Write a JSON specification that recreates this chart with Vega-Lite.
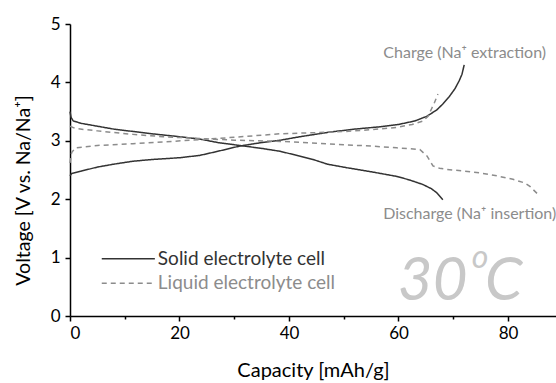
{
  "$schema": "https://vega.github.io/schema/vega-lite/v6.json",
  "width": 486,
  "height": 292,
  "autosize": {"type": "none"},
  "padding": {"left": 70, "top": 24, "right": 0, "bottom": 67},
  "config": {"view": {"stroke": null}, "font": "Lato"},
  "datasets": {
    "curves": [
      {"cell": "solid", "branch": "solid-charge", "i": 1, "cap": 0, "v": 2.40},
      {"cell": "solid", "branch": "solid-charge", "i": 2, "cap": 0.3, "v": 2.44},
      {"cell": "solid", "branch": "solid-charge", "i": 3, "cap": 2, "v": 2.48},
      {"cell": "solid", "branch": "solid-charge", "i": 4, "cap": 5, "v": 2.55},
      {"cell": "solid", "branch": "solid-charge", "i": 5, "cap": 8, "v": 2.60},
      {"cell": "solid", "branch": "solid-charge", "i": 6, "cap": 11.5, "v": 2.65},
      {"cell": "solid", "branch": "solid-charge", "i": 7, "cap": 15, "v": 2.68},
      {"cell": "solid", "branch": "solid-charge", "i": 8, "cap": 20, "v": 2.71},
      {"cell": "solid", "branch": "solid-charge", "i": 9, "cap": 23.7, "v": 2.75},
      {"cell": "solid", "branch": "solid-charge", "i": 10, "cap": 27, "v": 2.82},
      {"cell": "solid", "branch": "solid-charge", "i": 11, "cap": 31, "v": 2.91},
      {"cell": "solid", "branch": "solid-charge", "i": 12, "cap": 35, "v": 2.97},
      {"cell": "solid", "branch": "solid-charge", "i": 13, "cap": 38.4, "v": 3.01},
      {"cell": "solid", "branch": "solid-charge", "i": 14, "cap": 42, "v": 3.07},
      {"cell": "solid", "branch": "solid-charge", "i": 15, "cap": 47.5, "v": 3.15},
      {"cell": "solid", "branch": "solid-charge", "i": 16, "cap": 52, "v": 3.20},
      {"cell": "solid", "branch": "solid-charge", "i": 17, "cap": 56.6, "v": 3.24},
      {"cell": "solid", "branch": "solid-charge", "i": 18, "cap": 60, "v": 3.28},
      {"cell": "solid", "branch": "solid-charge", "i": 19, "cap": 63, "v": 3.34},
      {"cell": "solid", "branch": "solid-charge", "i": 20, "cap": 65.2, "v": 3.42},
      {"cell": "solid", "branch": "solid-charge", "i": 21, "cap": 67, "v": 3.53},
      {"cell": "solid", "branch": "solid-charge", "i": 22, "cap": 68.1, "v": 3.63},
      {"cell": "solid", "branch": "solid-charge", "i": 23, "cap": 69.3, "v": 3.76},
      {"cell": "solid", "branch": "solid-charge", "i": 24, "cap": 70.3, "v": 3.89},
      {"cell": "solid", "branch": "solid-charge", "i": 25, "cap": 71.1, "v": 4.03},
      {"cell": "solid", "branch": "solid-charge", "i": 26, "cap": 71.6, "v": 4.14},
      {"cell": "solid", "branch": "solid-charge", "i": 27, "cap": 72, "v": 4.30},

      {"cell": "solid", "branch": "solid-discharge", "i": 1, "cap": 0, "v": 3.50},
      {"cell": "solid", "branch": "solid-discharge", "i": 2, "cap": 0.2, "v": 3.40},
      {"cell": "solid", "branch": "solid-discharge", "i": 3, "cap": 0.6, "v": 3.34},
      {"cell": "solid", "branch": "solid-discharge", "i": 4, "cap": 2, "v": 3.30},
      {"cell": "solid", "branch": "solid-discharge", "i": 5, "cap": 5, "v": 3.25},
      {"cell": "solid", "branch": "solid-discharge", "i": 6, "cap": 8, "v": 3.20},
      {"cell": "solid", "branch": "solid-discharge", "i": 7, "cap": 11.5, "v": 3.16},
      {"cell": "solid", "branch": "solid-discharge", "i": 8, "cap": 15, "v": 3.12},
      {"cell": "solid", "branch": "solid-discharge", "i": 9, "cap": 20, "v": 3.07},
      {"cell": "solid", "branch": "solid-discharge", "i": 10, "cap": 23.7, "v": 3.03},
      {"cell": "solid", "branch": "solid-discharge", "i": 11, "cap": 27, "v": 2.97},
      {"cell": "solid", "branch": "solid-discharge", "i": 12, "cap": 31, "v": 2.92},
      {"cell": "solid", "branch": "solid-discharge", "i": 13, "cap": 35, "v": 2.87},
      {"cell": "solid", "branch": "solid-discharge", "i": 14, "cap": 38.4, "v": 2.82},
      {"cell": "solid", "branch": "solid-discharge", "i": 15, "cap": 41, "v": 2.76},
      {"cell": "solid", "branch": "solid-discharge", "i": 16, "cap": 44.4, "v": 2.68},
      {"cell": "solid", "branch": "solid-discharge", "i": 17, "cap": 47, "v": 2.60},
      {"cell": "solid", "branch": "solid-discharge", "i": 18, "cap": 50.5, "v": 2.54},
      {"cell": "solid", "branch": "solid-discharge", "i": 19, "cap": 55, "v": 2.47},
      {"cell": "solid", "branch": "solid-discharge", "i": 20, "cap": 59.7, "v": 2.39},
      {"cell": "solid", "branch": "solid-discharge", "i": 21, "cap": 62, "v": 2.33},
      {"cell": "solid", "branch": "solid-discharge", "i": 22, "cap": 64.5, "v": 2.25},
      {"cell": "solid", "branch": "solid-discharge", "i": 23, "cap": 66, "v": 2.18},
      {"cell": "solid", "branch": "solid-discharge", "i": 24, "cap": 67, "v": 2.11},
      {"cell": "solid", "branch": "solid-discharge", "i": 25, "cap": 68.1, "v": 1.99},

      {"cell": "liquid", "branch": "liquid-charge", "i": 1, "cap": 0, "v": 2.62},
      {"cell": "liquid", "branch": "liquid-charge", "i": 2, "cap": 0.3, "v": 2.80},
      {"cell": "liquid", "branch": "liquid-charge", "i": 3, "cap": 1, "v": 2.88},
      {"cell": "liquid", "branch": "liquid-charge", "i": 4, "cap": 5, "v": 2.92},
      {"cell": "liquid", "branch": "liquid-charge", "i": 5, "cap": 11.5, "v": 2.95},
      {"cell": "liquid", "branch": "liquid-charge", "i": 6, "cap": 17, "v": 2.98},
      {"cell": "liquid", "branch": "liquid-charge", "i": 7, "cap": 23.7, "v": 3.02},
      {"cell": "liquid", "branch": "liquid-charge", "i": 8, "cap": 30, "v": 3.06},
      {"cell": "liquid", "branch": "liquid-charge", "i": 9, "cap": 38.4, "v": 3.12},
      {"cell": "liquid", "branch": "liquid-charge", "i": 10, "cap": 45, "v": 3.14},
      {"cell": "liquid", "branch": "liquid-charge", "i": 11, "cap": 50.5, "v": 3.16},
      {"cell": "liquid", "branch": "liquid-charge", "i": 12, "cap": 55, "v": 3.19},
      {"cell": "liquid", "branch": "liquid-charge", "i": 13, "cap": 59.7, "v": 3.23},
      {"cell": "liquid", "branch": "liquid-charge", "i": 14, "cap": 62.5, "v": 3.28},
      {"cell": "liquid", "branch": "liquid-charge", "i": 15, "cap": 64.5, "v": 3.34},
      {"cell": "liquid", "branch": "liquid-charge", "i": 16, "cap": 65.4, "v": 3.42},
      {"cell": "liquid", "branch": "liquid-charge", "i": 17, "cap": 66, "v": 3.54},
      {"cell": "liquid", "branch": "liquid-charge", "i": 18, "cap": 66.6, "v": 3.66},
      {"cell": "liquid", "branch": "liquid-charge", "i": 19, "cap": 67.2, "v": 3.80},

      {"cell": "liquid", "branch": "liquid-discharge", "i": 1, "cap": 0, "v": 3.25},
      {"cell": "liquid", "branch": "liquid-discharge", "i": 2, "cap": 1, "v": 3.21},
      {"cell": "liquid", "branch": "liquid-discharge", "i": 3, "cap": 5, "v": 3.17},
      {"cell": "liquid", "branch": "liquid-discharge", "i": 4, "cap": 11.5, "v": 3.11},
      {"cell": "liquid", "branch": "liquid-discharge", "i": 5, "cap": 17, "v": 3.07},
      {"cell": "liquid", "branch": "liquid-discharge", "i": 6, "cap": 23.7, "v": 3.04},
      {"cell": "liquid", "branch": "liquid-discharge", "i": 7, "cap": 30, "v": 3.01},
      {"cell": "liquid", "branch": "liquid-discharge", "i": 8, "cap": 38.4, "v": 2.99},
      {"cell": "liquid", "branch": "liquid-discharge", "i": 9, "cap": 45, "v": 2.96},
      {"cell": "liquid", "branch": "liquid-discharge", "i": 10, "cap": 50.5, "v": 2.93},
      {"cell": "liquid", "branch": "liquid-discharge", "i": 11, "cap": 55, "v": 2.91},
      {"cell": "liquid", "branch": "liquid-discharge", "i": 12, "cap": 59.7, "v": 2.88},
      {"cell": "liquid", "branch": "liquid-discharge", "i": 13, "cap": 63.9, "v": 2.85},
      {"cell": "liquid", "branch": "liquid-discharge", "i": 14, "cap": 65.2, "v": 2.74},
      {"cell": "liquid", "branch": "liquid-discharge", "i": 15, "cap": 66.3, "v": 2.57},
      {"cell": "liquid", "branch": "liquid-discharge", "i": 16, "cap": 67.5, "v": 2.53},
      {"cell": "liquid", "branch": "liquid-discharge", "i": 17, "cap": 68.9, "v": 2.51},
      {"cell": "liquid", "branch": "liquid-discharge", "i": 18, "cap": 72, "v": 2.48},
      {"cell": "liquid", "branch": "liquid-discharge", "i": 19, "cap": 74.9, "v": 2.45},
      {"cell": "liquid", "branch": "liquid-discharge", "i": 20, "cap": 78, "v": 2.40},
      {"cell": "liquid", "branch": "liquid-discharge", "i": 21, "cap": 80.9, "v": 2.34},
      {"cell": "liquid", "branch": "liquid-discharge", "i": 22, "cap": 83, "v": 2.28},
      {"cell": "liquid", "branch": "liquid-discharge", "i": 23, "cap": 84, "v": 2.22},
      {"cell": "liquid", "branch": "liquid-discharge", "i": 24, "cap": 85.3, "v": 2.10}
    ],
    "legend": [
      {"cell": "solid", "cap": 5.8, "cap2": 15.5, "v": 0.98, "label": "Solid electrolyte cell"},
      {"cell": "liquid", "cap": 5.8, "cap2": 15.5, "v": 0.56, "label": "Liquid electrolyte cell"}
    ],
    "notes": [
      {"cap": 72.1, "v": 4.51, "label": "Charge (Na⁺ extraction)", "kind": "charge"},
      {"cap": 57.2, "v": 1.75, "label": "Discharge (Na⁺ insertion)", "kind": "discharge"}
    ]
  },
  "layer": [
    {
      "data": {"name": "curves"},
      "mark": {"type": "line", "strokeWidth": 1.5},
      "encoding": {
        "x": {
          "field": "cap", "type": "quantitative",
          "scale": {"domain": [0, 88.77], "nice": false, "zero": false},
          "axis": {
            "orient": "bottom", "values": [0, 10, 20, 30, 40, 50, 60, 70, 80], "grid": false,
            "format": "d", "labelExpr": "datum.value % 20 === 0 ? datum.label : ''",
            "title": "Capacity [mAh/g]", "titleFontSize": 20, "titleFontWeight": "normal",
            "titleColor": "#000", "titleBaseline": "alphabetic", "titleY": 60,
            "labelFontSize": 17, "labelColor": "#000", "labelPadding": 4,
            "domainColor": "#000", "domainWidth": 1.5,
            "tickColor": "#000", "tickWidth": 1.5,
            "tickSize": {"condition": {"test": "datum.value % 20 !== 0", "value": 3}, "value": 5}
          }
        },
        "y": {
          "field": "v", "type": "quantitative",
          "scale": {"domain": [0, 5], "nice": false},
          "axis": {
            "orient": "left", "values": [0, 0.5, 1, 1.5, 2, 2.5, 3, 3.5, 4, 4.5, 5], "grid": false,
            "format": "d", "labelExpr": "datum.value % 1 === 0 ? datum.label : ''",
            "title": "Voltage [V vs. Na/Na⁺]", "titleFontSize": 19.5, "titleFontWeight": "normal",
            "titleColor": "#000", "titleBaseline": "alphabetic", "titleX": -41, "titleY": 166,
            "labelFontSize": 17, "labelColor": "#000", "labelPadding": 5,
            "domainColor": "#000", "domainWidth": 1.5,
            "tickColor": "#000", "tickWidth": 1.5,
            "tickSize": {"condition": {"test": "datum.value % 1 !== 0", "value": 3}, "value": 5}
          }
        },
        "color": {"field": "cell", "type": "nominal", "scale": {"domain": ["solid", "liquid"], "range": ["#333333", "#8c8c8c"]}, "legend": null},
        "strokeDash": {"field": "cell", "type": "nominal", "scale": {"domain": ["solid", "liquid"], "range": [[1, 0], [5, 4]]}, "legend": null},
        "detail": {"field": "branch"},
        "order": {"field": "i", "type": "quantitative"}
      }
    },
    {
      "data": {"name": "legend"},
      "mark": {"type": "rule", "strokeWidth": 1.5},
      "encoding": {
        "x": {"field": "cap", "type": "quantitative"},
        "x2": {"field": "cap2"},
        "y": {"field": "v", "type": "quantitative"},
        "color": {"field": "cell", "type": "nominal", "legend": null},
        "strokeDash": {"field": "cell", "type": "nominal", "legend": null}
      }
    },
    {
      "data": {"name": "legend"},
      "mark": {"type": "text", "align": "left", "baseline": "middle", "fontSize": 19, "dx": 3},
      "encoding": {
        "x": {"field": "cap2", "type": "quantitative"},
        "y": {"field": "v", "type": "quantitative"},
        "text": {"field": "label"},
        "color": {"field": "cell", "type": "nominal", "legend": null}
      }
    },
    {
      "data": {"name": "notes"},
      "transform": [{"filter": "datum.kind === 'charge'"}],
      "mark": {"type": "text", "align": "center", "baseline": "middle", "fontSize": 16, "color": "#8c8c8c"},
      "encoding": {
        "x": {"field": "cap", "type": "quantitative"},
        "y": {"field": "v", "type": "quantitative"},
        "text": {"field": "label"}
      }
    },
    {
      "data": {"name": "notes"},
      "transform": [{"filter": "datum.kind === 'discharge'"}],
      "mark": {"type": "text", "align": "left", "baseline": "middle", "fontSize": 16, "color": "#8c8c8c"},
      "encoding": {
        "x": {"field": "cap", "type": "quantitative"},
        "y": {"field": "v", "type": "quantitative"},
        "text": {"field": "label"}
      }
    },
    {
      "data": {"values": [{"cap": 72.6, "v": 0.27, "label": "30"}]},
      "mark": {"type": "text", "align": "right", "baseline": "alphabetic", "fontSize": 60, "fontStyle": "italic", "color": "#c8c8c8"},
      "encoding": {
        "x": {"field": "cap", "type": "quantitative"},
        "y": {"field": "v", "type": "quantitative"},
        "text": {"field": "label"}
      }
    },
    {
      "data": {"values": [{"cap": 74.9, "v": 0.82, "label": "o"}]},
      "mark": {"type": "text", "align": "center", "baseline": "alphabetic", "fontSize": 32, "fontStyle": "italic", "color": "#c8c8c8"},
      "encoding": {
        "x": {"field": "cap", "type": "quantitative"},
        "y": {"field": "v", "type": "quantitative"},
        "text": {"field": "label"}
      }
    },
    {
      "data": {"values": [{"cap": 75.8, "v": 0.27, "label": "C"}]},
      "mark": {"type": "text", "align": "left", "baseline": "alphabetic", "fontSize": 60, "fontStyle": "italic", "color": "#c8c8c8"},
      "encoding": {
        "x": {"field": "cap", "type": "quantitative"},
        "y": {"field": "v", "type": "quantitative"},
        "text": {"field": "label"}
      }
    }
  ]
}
